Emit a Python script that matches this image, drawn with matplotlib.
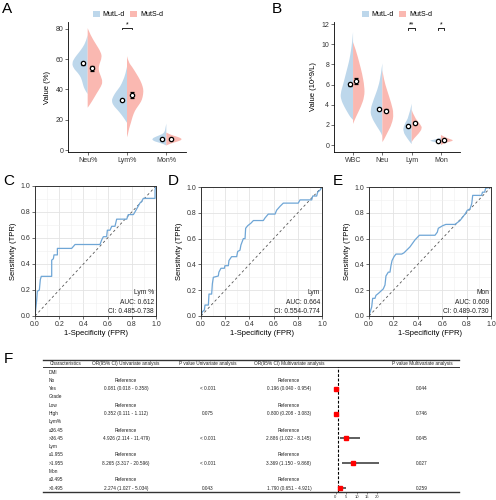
import numpy as np
import matplotlib.pyplot as plt
from matplotlib.patches import Patch, PathPatch
from matplotlib.path import Path

plt.rcParams['font.family'] = ['Liberation Sans', 'DejaVu Sans']

W, H = 496, 500


def rect(l, t, r, b):
    # pixel box -> figure fraction
    return [l / W, 1 - b / H, (r - l) / W, (b - t) / H]


blue = "#BDD7EB"
pink = "#FAB8B1"
roc_col = "#6FA6D6"
groups = ["MutL-d", "MutS-d"]

""" data : A (percent) """

A_cats = ["Neu%", "Lym%", "Mon%"]
A_mean_L = [57.3, 33.0, 7.3]
A_err_L = [0.9, 0.8, 0.4]
A_mean_S = [54.0, 36.4, 7.3]
A_err_S = [1.7, 1.7, 0.5]
A_sig = [(2, "*")]

# half violin outlines : (value, half width)
A_neu_L = [(76, 0), (72, 0.04), (68, 0.12), (64.5, 0.22), (61, 0.33), (57.5, 0.40),
           (54, 0.36), (51, 0.25), (48, 0.17), (44.5, 0.13), (41.5, 0.10), (39, 0.05), (37, 0)]
A_neu_S = [(80.5, 0), (75.5, 0.08), (70, 0.21), (64.5, 0.34), (61, 0.36), (57, 0.30), (53, 0.27),
           (48.5, 0.34), (45, 0.38), (42, 0.34), (37.5, 0.23), (33, 0.13), (29, 0.03), (28, 0)]
A_lym_L = [(55, 0), (50, 0.04), (46, 0.10), (42, 0.17), (38.5, 0.28), (35, 0.36), (32.5, 0.39),
           (29.5, 0.35), (26.5, 0.24), (23, 0.13), (20, 0.05), (18, 0)]
A_lym_S = [(62, 0), (58, 0.04), (55, 0.13), (50, 0.25), (46, 0.34), (42, 0.40), (39, 0.42),
           (35, 0.40), (32, 0.36), (29, 0.28), (26, 0.20), (22, 0.14), (18, 0.10), (14, 0.05),
           (10, 0.02), (8.5, 0)]
A_mon_L = [(17.5, 0), (15, 0.02), (12, 0.04), (10.5, 0.10), (9, 0.25), (7.5, 0.37), (6, 0.33),
           (5, 0.20), (4, 0.08), (3, 0)]
A_mon_S = [(11.5, 0), (10, 0.12), (9, 0.25), (8, 0.36), (7, 0.40), (6, 0.33), (5, 0.20),
           (4, 0.08), (3, 0)]

""" data : B (counts) """

B_cats = ["WBC", "Neu", "Lym", "Mon"]
B_mean_L = [6.02, 3.54, 1.88, 0.43]
B_err_L = [0.15, 0.10, 0.07, 0.02]
B_mean_S = [6.35, 3.42, 2.20, 0.50]
B_err_S = [0.25, 0.15, 0.10, 0.03]
B_sig = [(3, "**"), (4, "*")]

B_wbc_L = [(11.2, 0), (10.2, 0.03), (9.4, 0.07), (8.5, 0.12), (7.8, 0.18), (6.9, 0.26), (6.1, 0.33),
           (5.1, 0.43), (4.5, 0.41), (3.8, 0.30), (3.2, 0.18), (2.8, 0.10), (2.5, 0)]
B_wbc_S = [(10.2, 0), (9.4, 0.10), (8.1, 0.22), (7.1, 0.31), (5.8, 0.39), (4.8, 0.39), (3.8, 0.27),
           (2.8, 0.10), (2.1, 0)]
B_neu_L = [(8.1, 0), (7.0, 0.05), (5.8, 0.13), (4.5, 0.30), (3.5, 0.41), (2.8, 0.38), (1.8, 0.18),
           (1.15, 0.03), (0.8, 0)]
B_neu_S = [(7.4, 0), (6.4, 0.06), (5.45, 0.16), (4.1, 0.31), (3.1, 0.39), (2.1, 0.33), (1.15, 0.16),
           (0.5, 0.05), (0.3, 0)]
B_lym_L = [(4.1, 0), (2.8, 0.09), (2.0, 0.26), (1.35, 0.30), (0.66, 0.15), (0.2, 0.03), (0.1, 0)]
B_lym_S = [(3.5, 0), (2.8, 0.08), (2.0, 0.31), (1.66, 0.36), (1.16, 0.25), (0.66, 0.08), (0.3, 0)]
B_mon_L = [(0.75, 0), (0.6, 0.10), (0.45, 0.40), (0.35, 0.30), (0.2, 0.05), (0.15, 0)]
B_mon_S = [(1.0, 0), (0.8, 0.12), (0.6, 0.30), (0.45, 0.45), (0.3, 0.25), (0.1, 0.05), (0.0, 0)]

""" data : ROC """

C_fpr = [0, 0.008, 0.014, 0.019, 0.036, 0.044, 0.052, 0.138, 0.138, 0.152, 0.157, 0.185, 0.185,
         0.303, 0.331, 0.537, 0.551, 0.565, 0.592, 0.598, 0.620, 0.634, 0.661, 0.675, 0.758,
         0.771, 0.813, 0.826, 0.868, 0.882, 0.895, 0.992, 0.992, 1.0]
C_tpr = [0, 0.07, 0.123, 0.19, 0.20, 0.28, 0.305, 0.305, 0.43, 0.44, 0.47, 0.47, 0.52, 0.52,
         0.55, 0.55, 0.585, 0.61, 0.61, 0.66, 0.66, 0.69, 0.69, 0.745, 0.745, 0.78, 0.78, 0.80,
         0.87, 0.88, 0.905, 0.905, 0.97, 1.0]
D_fpr = [0, 0.011, 0.028, 0.033, 0.061, 0.066, 0.088, 0.094, 0.102, 0.143, 0.148, 0.165, 0.193,
         0.198, 0.226, 0.231, 0.253, 0.295, 0.303, 0.322, 0.33, 0.35, 0.364, 0.369, 0.386, 0.413,
         0.433, 0.515, 0.529, 0.556, 0.612, 0.625, 0.653, 0.68, 0.804, 0.818, 0.915, 0.923,
         0.956, 0.964, 0.983, 1.0]
D_tpr = [0, 0.033, 0.046, 0.085, 0.085, 0.17, 0.17, 0.25, 0.30, 0.31, 0.34, 0.37, 0.37, 0.39,
         0.39, 0.43, 0.46, 0.46, 0.50, 0.51, 0.55, 0.60, 0.60, 0.68, 0.70, 0.72, 0.74, 0.74,
         0.76, 0.79, 0.79, 0.82, 0.85, 0.875, 0.875, 0.90, 0.90, 0.93, 0.93, 0.96, 0.975, 1.0]
E_fpr = [0, 0.014, 0.022, 0.030, 0.049, 0.057, 0.077, 0.117, 0.131, 0.139, 0.158, 0.172, 0.180,
         0.189, 0.205, 0.221, 0.268, 0.287, 0.336, 0.377, 0.413, 0.541, 0.56, 0.568, 0.604,
         0.63, 0.705, 0.746, 0.787, 0.806, 0.828, 0.842, 0.85, 0.923, 0.93, 0.948, 0.956,
         0.984, 1.0]
E_tpr = [0, 0.046, 0.07, 0.137, 0.137, 0.16, 0.175, 0.21, 0.24, 0.31, 0.34, 0.34, 0.39, 0.43,
         0.46, 0.48, 0.48, 0.49, 0.536, 0.59, 0.626, 0.626, 0.65, 0.68, 0.70, 0.71, 0.71, 0.74,
         0.79, 0.82, 0.83, 0.87, 0.935, 0.935, 0.96, 0.96, 0.99, 0.995, 1.0]
roc_names = ["Lym %", "Lym", "Mon"]
roc_auc = [0.612, 0.664, 0.609]
roc_ci = [(0.485, 0.738), (0.554, 0.774), (0.489, 0.730)]

""" data : F (logistic regression) """

row_labels = ["DMI", "No", "Yes", "Grade", "Low", "High", "Lym%", "≤36.45", ">36.45",
              "Lym", "≤1.955", ">1.955", "Mon", "≤0.495", ">0.495"]
uni_or = [0.081, 0.352, 4.926, 8.265, 2.274]
uni_lo = [0.018, 0.111, 2.114, 3.317, 1.027]
uni_hi = [0.358, 1.112, 11.479, 20.596, 5.034]
uni_p = ["< 0.001", "0.075", "< 0.001", "< 0.001", "0.043"]
multi_or = [0.196, 0.800, 2.886, 3.369, 1.790]
multi_lo = [0.040, 0.208, 1.022, 1.150, 0.651]
multi_hi = [0.954, 3.083, 8.145, 9.868, 4.921]
multi_p = ["0.044", "0.746", "0.045", "0.027", "0.259"]
headers = ["Characteristics", "OR(95% CI) Univariate analysis", "P value Univariate analysis",
           "OR(95% CI) Multivariate analysis", "", "P value Multivariate analysis"]


""" helpers """


def half_violin(ax, x0, prof, side, color):
    v = np.array([p[0] for p in prof], dtype=float)
    w = np.array([p[1] for p in prof], dtype=float)
    pts = np.column_stack([x0 + side * w, v])
    verts = [pts[0]]
    codes = [Path.MOVETO]
    for i in range(1, len(pts) - 1):
        verts += [pts[i], (pts[i] + pts[i + 1]) / 2]
        codes += [Path.CURVE3, Path.CURVE3]
    verts += [pts[-1], (x0, v[-1]), (x0, v[0]), (x0, v[0])]
    codes += [Path.LINETO, Path.LINETO, Path.LINETO, Path.CLOSEPOLY]
    ax.add_patch(PathPatch(Path(verts, codes), fc=color, ec='none', lw=0))


def violin_panel(ax, cats, profL, profS, mL, eL, mS, eS, sig, dx, ylim, yticks, ylabel, sig_y, sig_d):
    x = np.arange(1, len(cats) + 1)
    for i in range(len(cats)):
        half_violin(ax, x[i], profL[i], -1, blue)
        half_violin(ax, x[i], profS[i], 1, pink)
    for xs, m, e in [(x - dx, mL, eL), (x + dx, mS, eS)]:
        ax.errorbar(xs, m, yerr=e, fmt='o', mfc='white', mec='black', ms=3.1, mew=0.9,
                    ecolor='black', elinewidth=0.8, capsize=1.2, capthick=0.8, zorder=5)
    for k, s in sig:
        ax.plot([k - dx, k - dx, k + dx, k + dx], [sig_y - sig_d, sig_y, sig_y, sig_y - sig_d],
                color='black', lw=0.6)
        ax.text(k, sig_y, s, ha='center', va='bottom', fontsize=5)
    ax.set_xlim(0.5 if len(cats) == 3 else 0.35, len(cats) + (0.5 if len(cats) == 3 else 0.65))
    ax.set_ylim(*ylim)
    ax.set_xticks(x)
    ax.set_xticklabels(cats)
    ax.set_yticks(yticks)
    ax.set_ylabel(ylabel, fontsize=5.5, labelpad=3)
    for s in ['top', 'right']:
        ax.spines[s].set_visible(False)
    for s in ['left', 'bottom']:
        ax.spines[s].set_linewidth(0.6)
    ax.tick_params(labelsize=5, length=2, width=0.5, pad=1.5, colors='#333')


def roc_panel(ax, fpr, tpr, name, auc, ci):
    ax.plot([0, 1], [0, 1], ls=(0, (3, 3)), color='#555', lw=0.6)
    ax.plot(fpr, tpr, color=roc_col, lw=0.9)
    ax.set_xlim(0, 1)
    ax.set_ylim(0, 1)
    ticks = np.arange(0, 1.01, 0.2)
    ax.set_xticks(ticks)
    ax.set_yticks(ticks)
    ax.set_xticks(np.arange(0.1, 1.0, 0.2), minor=True)
    ax.set_yticks(np.arange(0.1, 1.0, 0.2), minor=True)
    ax.grid(which='major', color='#E3E3E3', lw=0.6)
    ax.grid(which='minor', color='#EFEFEF', lw=0.4)
    ax.set_axisbelow(True)
    ax.tick_params(which='major', labelsize=5, length=2, width=0.5, pad=1.5, colors='#333')
    ax.tick_params(which='minor', length=0)
    for s in ax.spines.values():
        s.set_linewidth(0.7)
        s.set_color('#333')
    ax.set_xlabel("1-Specificity (FPR)", fontsize=5.5, labelpad=1.5)
    ax.set_ylabel("Sensitivity (TPR)", fontsize=5.5, labelpad=2)
    lines = [name, f"AUC: {auc:.3f}", f"CI: {ci[0]:.3f}-{ci[1]:.3f}"]
    for j, t in enumerate(lines):
        ax.text(0.983, 0.18 - 0.074 * j, t, ha='right', va='center', fontsize=4.8, color='#222')


""" plot """

fig = plt.figure(figsize=(W / 100, H / 100), dpi=100)
fig.patch.set_facecolor('white')

axA = fig.add_axes(rect(68, 22, 186, 152))
violin_panel(axA, A_cats, [A_neu_L, A_lym_L, A_mon_L], [A_neu_S, A_lym_S, A_mon_S],
             A_mean_L, A_err_L, A_mean_S, A_err_S, A_sig, 0.12, (-1.3, 84.6),
             [0, 20, 40, 60, 80], "Value (%)", 80.7, 1.0)

axB = fig.add_axes(rect(334, 22, 460, 152))
violin_panel(axB, B_cats, [B_wbc_L, B_neu_L, B_lym_L, B_mon_L], [B_wbc_S, B_neu_S, B_lym_S, B_mon_S],
             B_mean_L, B_err_L, B_mean_S, B_err_S, B_sig, 0.11, (-0.69, 12.2),
             [0, 2, 4, 6, 8, 10, 12], "Value (10^9/L)", 11.6, 0.15)

for cx in [128, 397]:
    fig.legend(handles=[Patch(fc=blue, label=groups[0]), Patch(fc=pink, label=groups[1])],
               loc='center', bbox_to_anchor=(cx / W, 1 - 14.5 / H), ncol=2, frameon=False,
               fontsize=5, handlelength=1.0, handleheight=1.0, handletextpad=0.4,
               columnspacing=0.8, borderpad=0)

axC = fig.add_axes(rect(35, 186, 156, 316))
roc_panel(axC, C_fpr, C_tpr, roc_names[0], roc_auc[0], roc_ci[0])
axD = fig.add_axes(rect(201, 187, 322, 316))
roc_panel(axD, D_fpr, D_tpr, roc_names[1], roc_auc[1], roc_ci[1])
axE = fig.add_axes(rect(369, 187, 491, 316))
roc_panel(axE, E_fpr, E_tpr, roc_names[2], roc_auc[2], roc_ci[2])

# panel letters
for lab, (lx, ly) in zip("ABCDEF", [(2, 9), (272, 9), (3, 181), (168, 181), (333, 181), (4, 359)]):
    fig.text(lx / W, 1 - ly / H, lab, fontsize=11, ha='left', va='center')

# table F (pixel coordinates)
axT = fig.add_axes([0, 0, 1, 1], zorder=-1)
axT.set_xlim(0, W)
axT.set_ylim(H, 0)
axT.axis('off')
fs = 3.4
tcol = '#222'
axT.plot([43, 459], [360, 360], color='#333', lw=1.0)
axT.plot([43, 459], [367, 367], color='#333', lw=0.7)
axT.plot([43, 459], [492, 492], color='#333', lw=1.0)
col_x = [65.5, 126, 208, 289, 0, 422]
for hx, h in zip(col_x, headers):
    if h:
        axT.text(hx, 363.5, h, ha='center', va='center', fontsize=fs, color=tcol)
row_y = 372 + 8.3 * np.arange(len(row_labels))
for i, lab in enumerate(row_labels):
    axT.text(49, row_y[i], lab, ha='left', va='center', fontsize=fs, color=tcol)
for g in range(5):
    r_ref = 3 * g + 1
    r_val = 3 * g + 2
    axT.text(col_x[1], row_y[r_ref], "Reference", ha='center', va='center', fontsize=fs, color=tcol)
    axT.text(col_x[3], row_y[r_ref], "Reference", ha='center', va='center', fontsize=fs, color=tcol)
    axT.text(col_x[1], row_y[r_val], f"{uni_or[g]:.3f} ({uni_lo[g]:.3f} - {uni_hi[g]:.3f})",
             ha='center', va='center', fontsize=fs, color=tcol)
    axT.text(col_x[2], row_y[r_val], uni_p[g], ha='center', va='center', fontsize=fs, color=tcol)
    axT.text(col_x[3], row_y[r_val], f"{multi_or[g]:.3f} ({multi_lo[g]:.3f} - {multi_hi[g]:.3f})",
             ha='center', va='center', fontsize=fs, color=tcol)
    axT.text(col_x[5], row_y[r_val], multi_p[g], ha='center', va='center', fontsize=fs, color=tcol)

# forest plot column
axF = fig.add_axes(rect(330, 367, 383, 492))
axF.set_xlim(-5.5 / 2.1, 20 + 5.5 / 2.1)
axF.set_ylim((492 - 372) / 8.3, (367 - 372) / 8.3)
for s in axF.spines.values():
    s.set_visible(False)
axF.patch.set_alpha(0)
axF.axvline(1, color='black', lw=0.8, ls=(0, (2.5, 1.5)))
rows_val = np.arange(5) * 3 + 2
axF.hlines(rows_val, uni_lo, uni_hi, color='#333', lw=1.1)
axF.plot(uni_or, rows_val, 's', color='red', ms=2.4, mec='red', zorder=4)
axF.set_yticks([])
axF.set_xticks([0, 5, 10, 15, 20])
axF.tick_params(axis='x', labelsize=3, length=1.5, width=0.4, pad=0.8, colors='#333')

fig.savefig("out.png", dpi=100, facecolor='white')
